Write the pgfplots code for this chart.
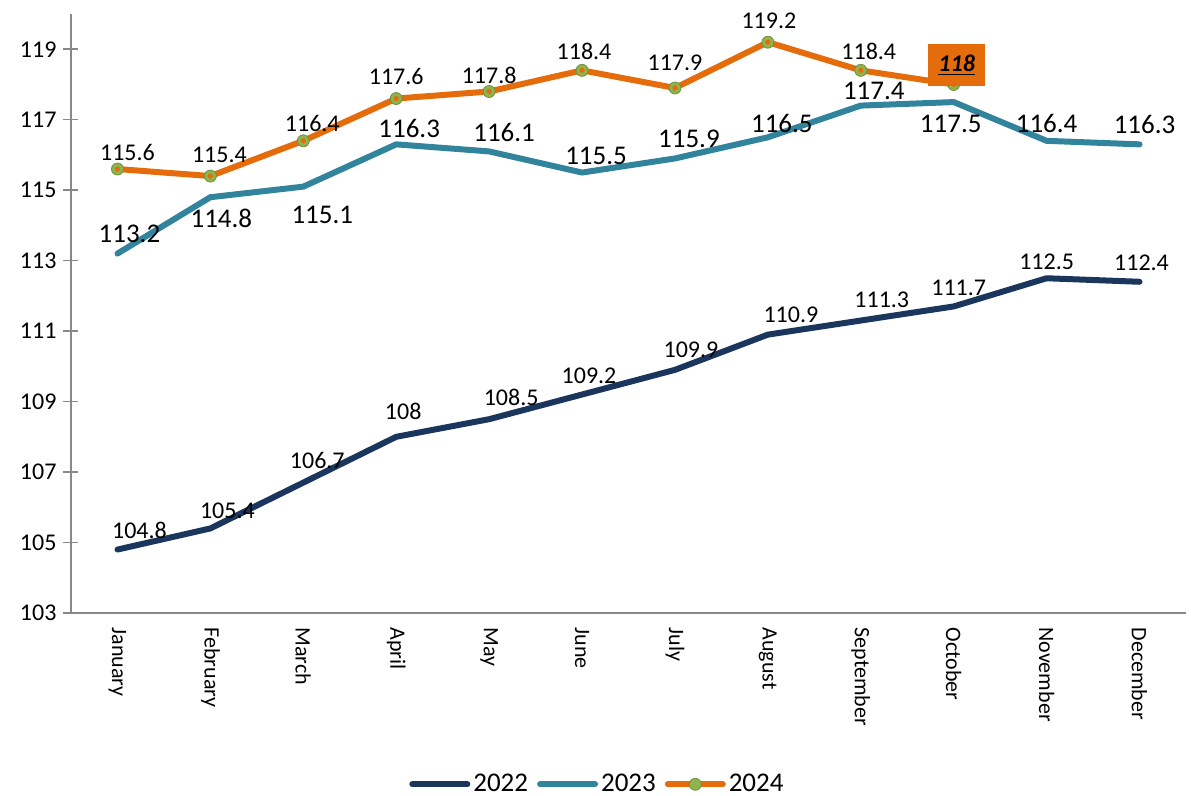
\documentclass[border=0pt]{standalone}
\usepackage{pgfplots}
\pgfplotsset{compat=1.18}
\usepackage{fontspec}
\setmainfont{Carlito}
\definecolor{c22}{HTML}{1B365D}
\definecolor{c23}{HTML}{31849B}
\definecolor{c24}{HTML}{E46C0A}
\definecolor{mk}{HTML}{8FB44E}
\definecolor{axgray}{HTML}{888888}
\begin{document}
\begin{tikzpicture}
\useasboundingbox (0,0) rectangle (595.5pt,398pt);
\begin{axis}[
  at={(35.5pt,91.5pt)}, anchor=south west,
  scale only axis, width=557.5pt, height=299.5pt,
  xmin=-0.5, xmax=11.5, ymin=103, ymax=120,
  axis x line*=bottom, axis y line*=left,
  axis line style={color=axgray, line width=0.75pt},
  ytick={103,105,...,119},
  xtick={0,...,11},
  xticklabels={January,February,March,April,May,June,July,August,September,October,November,December},
  xticklabel style={rotate=-90, anchor=west, font=\fontsize{11}{13}\selectfont},
  xtick style={draw=none},
  ytick style={color=axgray, line width=0.75pt},
  tick align=center, major tick length=7.5pt,
  yticklabel style={font=\fontsize{12}{14}\selectfont},
  /pgf/number format/assume math mode=true,
  clip=false,
  legend columns=3,
  legend style={at={(0.4726,-0.286)}, anchor=center, draw=none, fill=none,
    font=\fontsize{13.5}{15}\selectfont,
    nodes={inner xsep=1.5pt},
    /tikz/every even column/.append style={column sep=3pt},
    /tikz/every odd column/.append style={column sep=0pt}},
  legend image code/.code={\draw[mark repeat=2, mark phase=2, #1] plot coordinates {(0pt,0pt) (13.75pt,0pt) (27.5pt,0pt)};},
  every axis plot/.append style={line width=3pt, line join=round, line cap=round},
]
\addplot[c22, mark=none] coordinates {(0,104.8) (1,105.4) (2,106.7) (3,108) (4,108.5) (5,109.2) (6,109.9) (7,110.9) (8,111.3) (9,111.7) (10,112.5) (11,112.4)};
\addlegendentry{2022}
\addplot[c23, mark=none] coordinates {(0,113.2) (1,114.8) (2,115.1) (3,116.3) (4,116.1) (5,115.5) (6,115.9) (7,116.5) (8,117.4) (9,117.5) (10,116.4) (11,116.3)};
\addlegendentry{2023}
\addplot[c24, mark=*, mark size=3pt, mark options={fill=mk, draw=mk!80!black, line width=0.4pt}] coordinates {(0,115.6) (1,115.4) (2,116.4) (3,117.6) (4,117.8) (5,118.4) (6,117.9) (7,119.2) (8,118.4) (9,118)};
\addlegendentry{2024}
\addplot[forget plot, only marks, color=c24, mark=*, mark size=1.2pt, mark options={fill=c24, draw=c24, line width=0.1pt}] coordinates {(0,115.6) (1,115.4) (2,116.4) (3,117.6) (4,117.8) (5,118.4) (6,117.9) (7,119.2) (8,118.4) (9,118)};

% labels 2022
\addplot[forget plot, draw=none, mark=none, nodes near coords, point meta=y,
  visualization depends on={\thisrow{dx} \as \dx},
  visualization depends on={\thisrow{dy} \as \dy},
  every node near coord/.style={anchor=center, text=black, inner sep=0pt, xshift=\dx pt, yshift=\dy pt, font=\fontsize{12}{14}\selectfont}]
table {
x y dx dy
0 104.8 11 9.5
1 105.4 8.5 9
2 106.7 7 11
3 108 3.5 12.5
4 108.5 11 11
5 109.2 3.5 9.5
6 109.9 8 10
7 110.9 11.5 10
8 111.3 10.5 10.5
9 111.7 2.5 9.5
10 112.5 0 8
11 112.4 1 9.5
};
% labels 2023
\addplot[forget plot, draw=none, mark=none, nodes near coords, point meta=y,
  visualization depends on={\thisrow{dx} \as \dx},
  visualization depends on={\thisrow{dy} \as \dy},
  every node near coord/.style={anchor=center, text=black, inner sep=0pt, xshift=\dx pt, yshift=\dy pt, font=\fontsize{13.5}{15}\selectfont}]
table {
x y dx dy
0 113.2 6 10
1 114.8 5.5 -10.5
2 115.1 9.5 -14
3 116.3 6.5 8
4 116.1 7.5 9.5
5 115.5 7 8.5
6 115.9 7 10
7 116.5 7 7
8 117.4 6.5 7.5
9 117.5 -1.5 -11
10 116.4 0 8.5
11 116.3 2.5 10
};
% labels 2024
\addplot[forget plot, draw=none, mark=none, nodes near coords, point meta=y,
  visualization depends on={\thisrow{dx} \as \dx},
  visualization depends on={\thisrow{dy} \as \dy},
  every node near coord/.style={anchor=center, text=black, inner sep=0pt, xshift=\dx pt, yshift=\dy pt, font=\fontsize{12}{14}\selectfont}]
table {
x y dx dy
0 115.6 5 8.5
1 115.4 4.5 10.5
2 116.4 4.5 8.5
3 117.6 0 11
4 117.8 0 8
5 118.4 1 9.5
6 117.9 0 12.5
7 119.2 0.5 10.5
8 118.4 4 9.5
};
\addplot[forget plot, draw=none, mark=none, nodes near coords={\textbf{\textit{\underline{118}}}},
  every node near coord/.style={anchor=center, text=black, fill=c24, inner sep=0pt, minimum width=28.5pt, minimum height=21pt, xshift=1.5pt, yshift=9.5pt, font=\fontsize{12}{14}\selectfont}]
coordinates {(9,118)};
\end{axis}
\end{tikzpicture}
\end{document}
